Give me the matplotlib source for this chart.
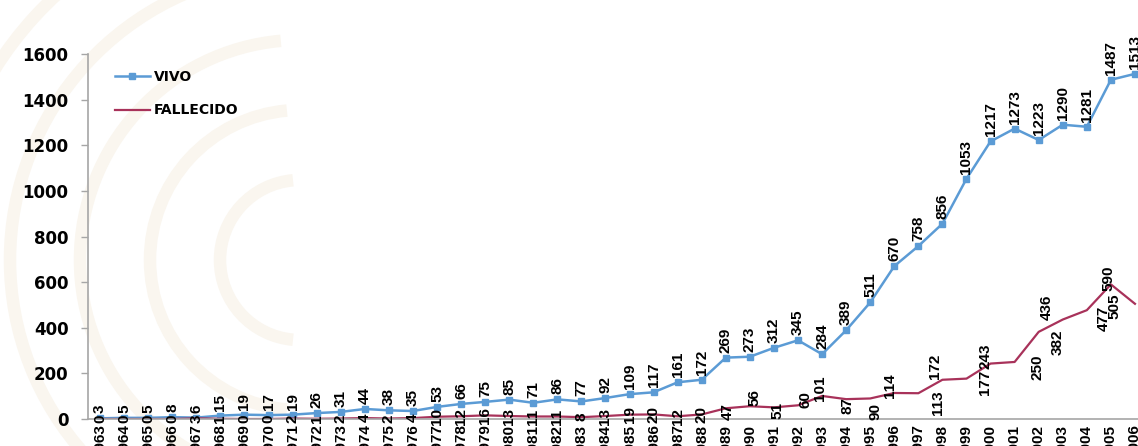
import numpy as np
import matplotlib
matplotlib.use('Agg')
import matplotlib.pyplot as plt
from matplotlib.patches import Arc

# data
years = list(range(1963, 2007))
vivo = [3, 5, 5, 8, 6, 15, 19, 17, 19, 26, 31, 44, 38, 35, 53, 66, 75, 85, 71, 86,
        77, 92, 109, 117, 161, 172, 269, 273, 312, 345, 284, 389, 511, 670, 758, 856,
        1053, 1217, 1273, 1223, 1290, 1281, 1487, 1513]
fallecido = [0, 0, 0, 0, 3, 1, 0, 0, 2, 1, 2, 4, 2, 4, 10, 12, 16, 13, 11, 11,
             8, 13, 19, 20, 12, 20, 47, 56, 51, 60, 101, 87, 90, 114, 113, 172,
             177, 243, 250, 382, 436, 477, 590, 505]

# where the red labels sit relative to their point (pixels, screen down = +)
fal_off = [(0, 0)] * 26 + [(2, 3), (5, -9), (4, 3), (7, -6), (-2, -8), (1, 6),
                           (5, 13), (-4, -7), (20, 9), (-7, -13), (19, 4), (-5, -7),
                           (23, 5), (19, 10), (-16, -12), (17, 8), (-2, -6), (-20, 2)]

blue = '#5B9BD5'
red = '#A8325A'
lbl_font = ['Liberation Sans Narrow', 'Liberation Sans', 'DejaVu Sans']

W, H = 1138, 446
fig = plt.figure(figsize=(W / 100, H / 100), dpi=100)

# very faint watermark arcs in the background (left side)
bg = fig.add_axes([0, 0, 1, 1], zorder=-1)
bg.set_xlim(0, W)
bg.set_ylim(H, 0)
bg.axis('off')
for r in [80, 150, 220, 290, 360, 430, 500]:
    bg.add_patch(Arc((300, 260), r * 2, r * 2, theta1=95, theta2=265,
                     color='#FAF6EF', lw=9))

ax = fig.add_axes([88 / W, 27 / H, 1059 / W, 365 / H])
ax.patch.set_alpha(0)

x = np.arange(len(years))
ax.plot(x, vivo, color=blue, lw=1.8, marker='s', ms=5, label='VIVO')
ax.plot(x, fallecido, color=red, lw=1.6, label='FALLECIDO')

for i, v in enumerate(vivo):
    ax.annotate(str(v), (i, v), xytext=(0, 5), textcoords='offset pixels',
                rotation=90, ha='center', va='bottom', fontsize=11,
                fontweight='bold', family=lbl_font, annotation_clip=False)

for i, v in enumerate(fallecido):
    dx, dy = fal_off[i]
    ax.annotate(str(v), (i, v), xytext=(dx, -dy), textcoords='offset pixels',
                rotation=90, ha='center', va='center', fontsize=11,
                fontweight='bold', family=lbl_font, annotation_clip=False)

ax.set_xlim(-0.5, len(years) - 0.5)
ax.set_ylim(0, 1600)
ax.set_yticks(np.arange(0, 1601, 200))
ax.set_xticks(x)
ax.set_xticklabels([str(y) for y in years], rotation=90, fontsize=11,
                   fontweight='bold', family=lbl_font)
for t in ax.get_yticklabels():
    t.set_fontweight('bold')
    t.set_fontsize(12)
    t.set_family('DejaVu Sans')

for s in ['top', 'right']:
    ax.spines[s].set_visible(False)
for s in ['left', 'bottom']:
    ax.spines[s].set_color('#A6A6A6')
    ax.spines[s].set_linewidth(1.2)
ax.tick_params(axis='y', length=5, width=1, color='#A6A6A6', pad=9)
ax.tick_params(axis='x', length=0, pad=4)

ax.legend(loc='upper left', bbox_to_anchor=(115 / W, (H - 70) / H),
          bbox_transform=fig.transFigure, frameon=False, borderpad=0,
          borderaxespad=0, handlelength=2.5, handletextpad=0.3,
          labelspacing=1.4, prop={'family': 'DejaVu Sans', 'weight': 'bold', 'size': 10})

fig.savefig('out.png', dpi=100)
